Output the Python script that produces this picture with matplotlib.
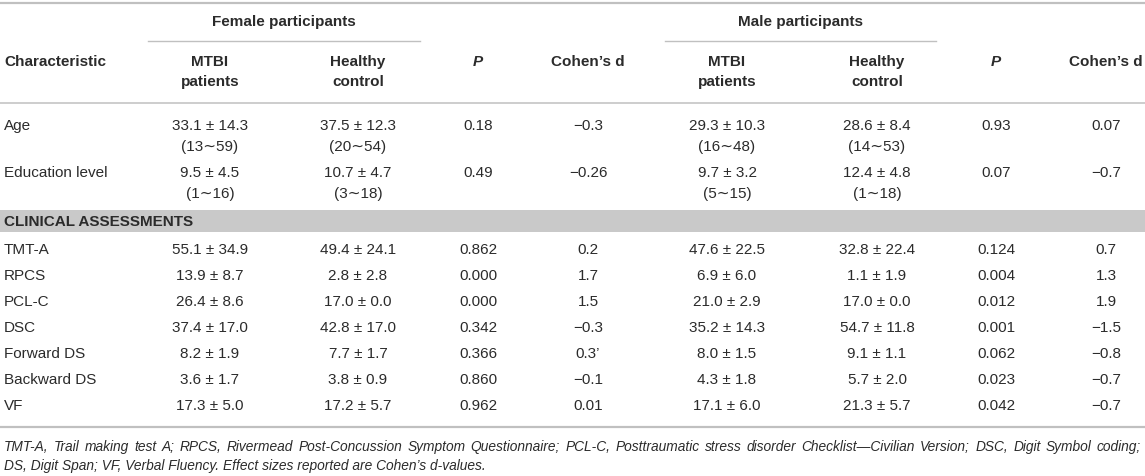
import matplotlib.pyplot as plt

plt.rcParams['font.family'] = ['Liberation Sans', 'DejaVu Sans']

# ---- table data ----
demo_rows = ["Age", "Education level"]
demo_female_mtbi = ["33.1 ± 14.3", "9.5 ± 4.5"]
demo_female_mtbi_rng = ["(13∼59)", "(1∼16)"]
demo_female_hc = ["37.5 ± 12.3", "10.7 ± 4.7"]
demo_female_hc_rng = ["(20∼54)", "(3∼18)"]
demo_female_p = ["0.18", "0.49"]
demo_female_d = ["−0.3", "−0.26"]
demo_male_mtbi = ["29.3 ± 10.3", "9.7 ± 3.2"]
demo_male_mtbi_rng = ["(16∼48)", "(5∼15)"]
demo_male_hc = ["28.6 ± 8.4", "12.4 ± 4.8"]
demo_male_hc_rng = ["(14∼53)", "(1∼18)"]
demo_male_p = ["0.93", "0.07"]
demo_male_d = ["0.07", "−0.7"]

tests = ["TMT-A", "RPCS", "PCL-C", "DSC", "Forward DS", "Backward DS", "VF"]
female_mtbi = ["55.1 ± 34.9", "13.9 ± 8.7", "26.4 ± 8.6", "37.4 ± 17.0", "8.2 ± 1.9", "3.6 ± 1.7", "17.3 ± 5.0"]
female_hc = ["49.4 ± 24.1", "2.8 ± 2.8", "17.0 ± 0.0", "42.8 ± 17.0", "7.7 ± 1.7", "3.8 ± 0.9", "17.2 ± 5.7"]
female_p = ["0.862", "0.000", "0.000", "0.342", "0.366", "0.860", "0.962"]
female_d = ["0.2", "1.7", "1.5", "−0.3", "0.3’", "−0.1", "0.01"]
male_mtbi = ["47.6 ± 22.5", "6.9 ± 6.0", "21.0 ± 2.9", "35.2 ± 14.3", "8.0 ± 1.5", "4.3 ± 1.8", "17.1 ± 6.0"]
male_hc = ["32.8 ± 22.4", "1.1 ± 1.9", "17.0 ± 0.0", "54.7 ± 11.8", "9.1 ± 1.1", "5.7 ± 2.0", "21.3 ± 5.7"]
male_p = ["0.124", "0.004", "0.012", "0.001", "0.062", "0.023", "0.042"]
male_d = ["0.7", "1.3", "1.9", "−1.5", "−0.8", "−0.7", "−0.7"]

footnote = [
    "TMT-A, Trail making test A; RPCS, Rivermead Post-Concussion Symptom Questionnaire; "
    "PCL-C, Posttraumatic stress disorder Checklist—Civilian Version; DSC, Digit Symbol coding;",
    "DS, Digit Span; VF, Verbal Fluency. Effect sizes reported are Cohen’s d-values.",
]

# ---- layout (pixel units) ----
W, H = 1145, 476
col_x = [210, 358, 478, 588, 727, 877, 996, 1106]
txt = '#2b2b2b'
rule = '#c0c0c0'
fs = 11

fig = plt.figure(figsize=(W / 100, H / 100), dpi=100)
ax = fig.add_axes([0, 0, 1, 1])
ax.set_xlim(0, W)
ax.set_ylim(H, 0)
ax.axis('off')

# rules
ax.plot([0, W], [3, 3], color=rule, lw=1.6)
ax.plot([148, 420], [41, 41], color=rule, lw=1.0)
ax.plot([665, 936], [41, 41], color=rule, lw=1.0)
ax.plot([0, W], [103, 103], color=rule, lw=1.1)
ax.plot([0, W], [427, 427], color=rule, lw=1.6)

# group headers
ax.text(284, 22, "Female participants", ha='center', va='center', fontsize=fs, fontweight='bold', color=txt)
ax.text(800, 22, "Male participants", ha='center', va='center', fontsize=fs, fontweight='bold', color=txt)

# column headers
ax.text(4, 62, "Characteristic", ha='left', va='center', fontsize=fs, fontweight='bold', color=txt)
for base in (0, 4):
    for k, (l1, l2) in enumerate([("MTBI", "patients"), ("Healthy", "control")]):
        ax.text(col_x[base + k], 62, l1, ha='center', va='center', fontsize=fs,
                fontweight='bold', color=txt)
        ax.text(col_x[base + k], 82, l2, ha='center', va='center', fontsize=fs,
                fontweight='bold', color=txt)
    ax.text(col_x[base + 2], 62, "P", ha='center', va='center', fontsize=fs,
            fontweight='bold', fontstyle='italic', color=txt)
    ax.text(col_x[base + 3], 62, "Cohen’s d", ha='center', va='center', fontsize=fs,
            fontweight='bold', color=txt)

# demographic rows
demo_y = [126, 173]
for i, name in enumerate(demo_rows):
    y = demo_y[i]
    ax.text(4, y, name, ha='left', va='center', fontsize=fs, color=txt)
    vals = [demo_female_mtbi[i], demo_female_hc[i], demo_female_p[i], demo_female_d[i],
            demo_male_mtbi[i], demo_male_hc[i], demo_male_p[i], demo_male_d[i]]
    for x, v in zip(col_x, vals):
        ax.text(x, y, v, ha='center', va='center', fontsize=fs, color=txt)
    rngs = [demo_female_mtbi_rng[i], demo_female_hc_rng[i], demo_male_mtbi_rng[i], demo_male_hc_rng[i]]
    for x, v in zip([col_x[0], col_x[1], col_x[4], col_x[5]], rngs):
        ax.text(x, y + 21, v, ha='center', va='center', fontsize=fs, color=txt)

# section band
ax.add_patch(plt.Rectangle((0, 210), W, 22, facecolor='#c9c9c9', edgecolor='none'))
ax.text(4, 221.5, "CLINICAL ASSESSMENTS", ha='left', va='center', fontsize=fs,
        fontweight='bold', color=txt)

# clinical rows
for i, name in enumerate(tests):
    y = 250 + i * 26
    ax.text(4, y, name, ha='left', va='center', fontsize=fs, color=txt)
    vals = [female_mtbi[i], female_hc[i], female_p[i], female_d[i],
            male_mtbi[i], male_hc[i], male_p[i], male_d[i]]
    for x, v in zip(col_x, vals):
        ax.text(x, y, v, ha='center', va='center', fontsize=fs, color=txt)

# footnote: first line justified to the full width, second line left aligned
fn_fs = 9.9
renderer = fig.canvas.get_renderer()
words = footnote[0].split(' ')
items = [ax.text(0, 447, w, ha='left', va='center', fontsize=fn_fs, fontstyle='italic', color=txt)
         for w in words]
inv = ax.transData.inverted()
widths = []
for t in items:
    bb = t.get_window_extent(renderer)
    x0 = inv.transform((bb.x0, bb.y0))[0]
    x1 = inv.transform((bb.x1, bb.y0))[0]
    widths.append(x1 - x0)
left, right = 4, 1141
gap = (right - left - sum(widths)) / (len(words) - 1)
x = left
for t, w in zip(items, widths):
    t.set_x(x)
    x += w + gap
ax.text(4, 466, footnote[1], ha='left', va='center', fontsize=fn_fs, fontstyle='italic', color=txt)

fig.savefig('out.png', dpi=100)
